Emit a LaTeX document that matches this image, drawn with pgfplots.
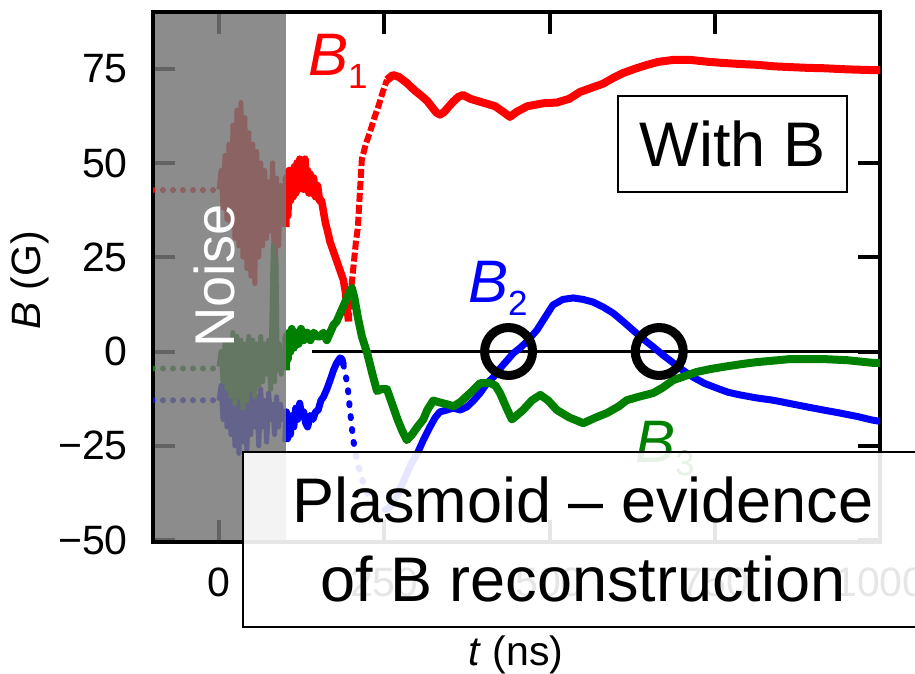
\documentclass[border=0pt]{standalone}
\usepackage{fontspec}
\setmainfont{Liberation Sans}
\usepackage{pgfplots}
\pgfplotsset{compat=1.18}

\definecolor{bred}{RGB}{255,0,0}
\definecolor{bblue}{RGB}{0,0,255}
\definecolor{bgreen}{RGB}{0,128,0}
\definecolor{noisegray}{RGB}{118,118,118}

\newcommand\tickfont{\fontsize{41bp}{49bp}\selectfont}
\newcommand\bigfont{\fontsize{63bp}{76bp}\selectfont}
\newcommand\blabel[2]{\fontsize{60bp}{60bp}\selectfont\textit{#1}\raisebox{-13bp}{\fontsize{35bp}{35bp}\selectfont #2}}

\begin{document}
\begin{tikzpicture}
\useasboundingbox (0,0) rectangle (915bp,-674bp);
\begin{axis}[
  at={(153bp,-542bp)}, anchor=south west,
  scale only axis, width=727bp, height=530bp,
  xmin=-100, xmax=1000, ymin=-50.5, ymax=90,
  xtick={0,250,500,750,1000}, xticklabels={0,250,500,750,1000},
  ytick={-50,-25,0,25,50,75}, yticklabels={−50,−25,0,25,50,75},
  axis line style={line width=4.5bp},
  tick style={line width=4bp, black},
  major tick length=22bp,
  tick align=inside,
  ticklabel style={font=\tickfont},
  /pgf/number format/assume math mode=true,
  xticklabel style={anchor=north, inner sep=0pt, yshift=-26bp},
  yticklabel style={anchor=east, inner sep=0pt, xshift=-25bp},
  xlabel={\textit{t} (ns)}, ylabel={\textit{B} (G)},
  label style={font=\tickfont},
  xlabel style={at={(axis description cs:0.4993,-0.2132)}, anchor=center},
  ylabel style={at={(axis description cs:-0.169,0.494)}, anchor=center},
  every axis plot/.append style={line join=round},
]

% zero reference line
\addplot[black, line width=2.5bp] coordinates {(141,0) (1000,0)};

% ---------------- B1 ----------------
\addplot[bred, line width=6bp, line cap=round, dash pattern=on 0bp off 10bp]
  coordinates {(-100,42.8) (0,42.8)};
\addplot[bred, line width=5bp] coordinates {
  (0,43) (3,48) (6,38) (9,52) (12,35) (15,55) (18,33) (21,60) (24,30) (27,64)
  (30,28) (33,66) (36,25) (39,62) (42,22) (45,58) (48,20) (51,55) (54,18) (57,53)
  (60,25) (63,50) (66,28) (69,48) (72,30) (75,45) (78,32) (81,50) (84,15) (87,46)
  (90,28) (93,44) (96,35) (99,42) (101,40)};
\addplot[bred, line width=7.5bp] coordinates {
  (101,33) (102,46) (104,36) (106,48) (108,40) (110,47) (112,41) (114,49) (116,42)
  (118,50) (120,43) (122,51) (124,44) (126,49) (128,43) (130,51) (132,44) (134,48)
  (136,42) (138,47) (140,42) (143,46) (146,41) (149,44) (152,40) (155,40) (158,37)
  (161,34) (164,32) (168,29) (172,27) (176,25) (180,23) (184,21) (188,19) (191,16)
  (194,11) (196,8)};
\addplot[bred, line width=6bp, dash pattern=on 9bp off 3bp] coordinates {
  (196,8) (199,15) (203,22) (207,29) (210,33) (213,42) (216,51) (222,55) (228,58)
  (235,62) (241,65) (248,69) (254,72)};
\addplot[bred, line width=8bp] coordinates {
  (254,72) (263,73.3) (272,72.8) (284,71.2) (296,69.2) (306,67.8) (315,66.4)
  (323,64.6) (329,63.3) (334,62.8) (340,63.4) (347,64.8) (354,66.2) (362,67.5)
  (369,68) (380,67) (399,66) (418,65) (430,63.5) (440,62.2) (450,63.5) (466,65)
  (490,65.8) (511,66) (530,67) (546,68.8) (565,70) (581,71) (596,72.5) (611,73.8)
  (630,75) (648,76) (665,76.8) (687,77.3) (713,77.3) (740,76.8) (762,76.5)
  (790,76.2) (814,76) (840,75.6) (864,75.4) (890,75.2) (914,75.1) (950,74.8)
  (989,74.6) (1000,74.6)};

% ---------------- B2 ----------------
\addplot[bblue, line width=6bp, line cap=round, dash pattern=on 0bp off 10bp]
  coordinates {(-100,-12.9) (0,-12.9)};
\addplot[bblue, line width=5bp] coordinates {
  (0,-13) (3,-9) (6,-18) (9,-8) (12,-20) (15,-10) (18,-22) (21,-8) (24,-25) (27,-10)
  (30,-27) (33,-12) (36,-24) (39,-9) (42,-26) (45,-11) (48,-22) (51,-8) (54,-20)
  (57,-12) (60,-25) (63,-10) (66,-20) (69,-13) (72,-24) (75,-11) (78,-18) (81,-14)
  (84,-22) (87,-12) (90,-20) (93,-14) (96,-18) (100,-16)};
\addplot[bblue, line width=7bp] coordinates {
  (101,-24) (102,-16) (104,-23) (106,-17) (108,-22) (110,-17) (113,-20) (116,-15)
  (119,-18) (122,-13.7) (125,-17) (128,-16) (131,-19) (134,-20) (138,-17) (142,-18)
  (146,-16) (150,-15.5) (154,-13) (158,-12) (163,-10) (168,-7.6) (173,-5) (178,-3)
  (183,-1.7) (186,-2) (188,-3.5)};
\addplot[bblue, line width=6bp, line cap=round, dash pattern=on 2bp off 11bp] coordinates {
  (188,-3.5) (191,-5.7) (195,-10) (198,-15.5) (203,-23.5) (210,-30) (220,-36)
  (232,-40) (244,-41.5) (252,-42)};
\addplot[bblue, line width=7bp] coordinates {
  (252,-42) (260,-41) (270,-38) (280,-34) (290,-30) (300,-27) (309,-23.5) (319,-20)
  (327,-17.5) (334,-16) (345,-15.5) (354,-15) (365,-15.5) (375,-14.7) (385,-13)
  (395,-11) (405,-8.5) (415,-6.8) (425,-4.5) (436,-2.3) (445,-0.5) (455,0.9)
  (465,2.5) (481,5.7) (493,9) (505,12.3) (520,13.8) (536,14.2) (551,13.8) (566,13.1)
  (581,11.8) (596,10.2) (611,8) (626,5.7) (641,3.4) (657,1.2) (672,-1) (687,-3)
  (702,-5) (717,-6.8) (735,-8.5) (753,-9.7) (770,-10.8) (788,-11.5) (813,-12.3)
  (838,-12.9) (864,-13.8) (890,-14.7) (914,-15.5) (939,-16.3) (965,-17.2)
  (989,-18.2) (1000,-18.5)};

% ---------------- B3 ----------------
\addplot[bgreen, line width=6bp, line cap=round, dash pattern=on 0bp off 10bp]
  coordinates {(-100,-4.5) (0,-4.5)};
\addplot[bgreen, line width=5bp] coordinates {
  (0,-4) (3,0) (6,-8) (9,2) (12,-10) (15,3) (18,-12) (21,5) (24,-14) (27,4) (30,-12)
  (33,3) (36,-15) (39,2) (42,-13) (45,4) (48,-10) (51,3) (54,-12) (57,2) (60,-9)
  (63,4) (66,-8) (69,2) (72,-6) (75,3) (78,-10) (80,10) (82,28) (84,-8) (86,25)
  (88,-5) (91,2) (94,-6) (97,0) (100,-3)};
\addplot[bgreen, line width=8bp] coordinates {
  (101,-5) (102,4) (104,-2) (106,5) (108,0) (110,6) (113,1) (116,5) (120,2) (124,6)
  (128,3) (133,5) (138,3) (143,5) (148,4) (153,4) (158,5) (163,3) (168,5) (173,7)
  (178,8) (183,10) (188,12) (193,14) (198,16) (201,16.8) (205,14) (210,9) (216,4)
  (224,-0.4) (232,-6) (239,-10.5) (245,-10) (254,-10) (262,-14) (270,-18) (277,-21)
  (284,-23.5) (292,-22) (300,-20) (309,-18) (315,-15.5) (324,-13) (334,-13.5)
  (345,-14) (355,-14.5) (365,-13.4) (380,-11) (395,-8.4) (410,-8.4) (418,-9)
  (425,-11) (435,-15) (443,-18) (450,-17) (460,-15.5) (473,-13) (486,-11.5)
  (498,-13) (511,-15.5) (530,-17.5) (551,-19) (570,-17.5) (587,-16.3) (605,-14.5)
  (617,-12.9) (635,-12) (657,-11) (672,-9.5) (687,-7.6) (705,-6.5) (723,-5.4)
  (742,-4.7) (762,-4.1) (788,-3.4) (814,-2.8) (840,-2.4) (864,-2) (890,-2)
  (914,-2) (950,-2.3) (989,-3) (1000,-3)};

% zero crossings of B2
\addplot[black, only marks, mark=o, mark size=24bp, mark options={line width=9bp}]
  coordinates {(438,0) (666,0)};

\coordinate (noiseSW) at (axis cs:-100,-50.5);
\coordinate (noiseNE) at (axis cs:101,90);
\end{axis}

% shaded interval with pre-trigger noise
\fill[noisegray, opacity=0.84] ([shift={(2.25bp,2.25bp)}]noiseSW) rectangle ([yshift=-2.25bp]noiseNE);

\begin{scope}[x=1bp, y=-1bp]
  \node[white, rotate=90, inner sep=0, font=\fontsize{56bp}{56bp}\selectfont] at (214,276) {Noise};

  \node[anchor=base west, inner sep=0, text=bred]   at (308,75)  {\blabel{B}{1}};
  \node[anchor=base west, inner sep=0, text=bblue]  at (468,302) {\blabel{B}{2}};
  \node[anchor=base west, inner sep=0, text=bgreen] at (635,462) {\blabel{B}{3}};

  \node[draw, line width=1.5bp, fill=white, minimum width=229bp, minimum height=96bp,
        inner sep=0, font=\bigfont] at (732.5,144) {With B};

  \draw[line width=2bp, fill=white, fill opacity=0.9] (243,452) rectangle (940,627);
  \node[anchor=base, inner sep=0, font=\bigfont] at (583,522) {Plasmoid – evidence};
  \node[anchor=base, inner sep=0, font=\bigfont] at (583,601) {of B reconstruction};
\end{scope}
\end{tikzpicture}
\end{document}
